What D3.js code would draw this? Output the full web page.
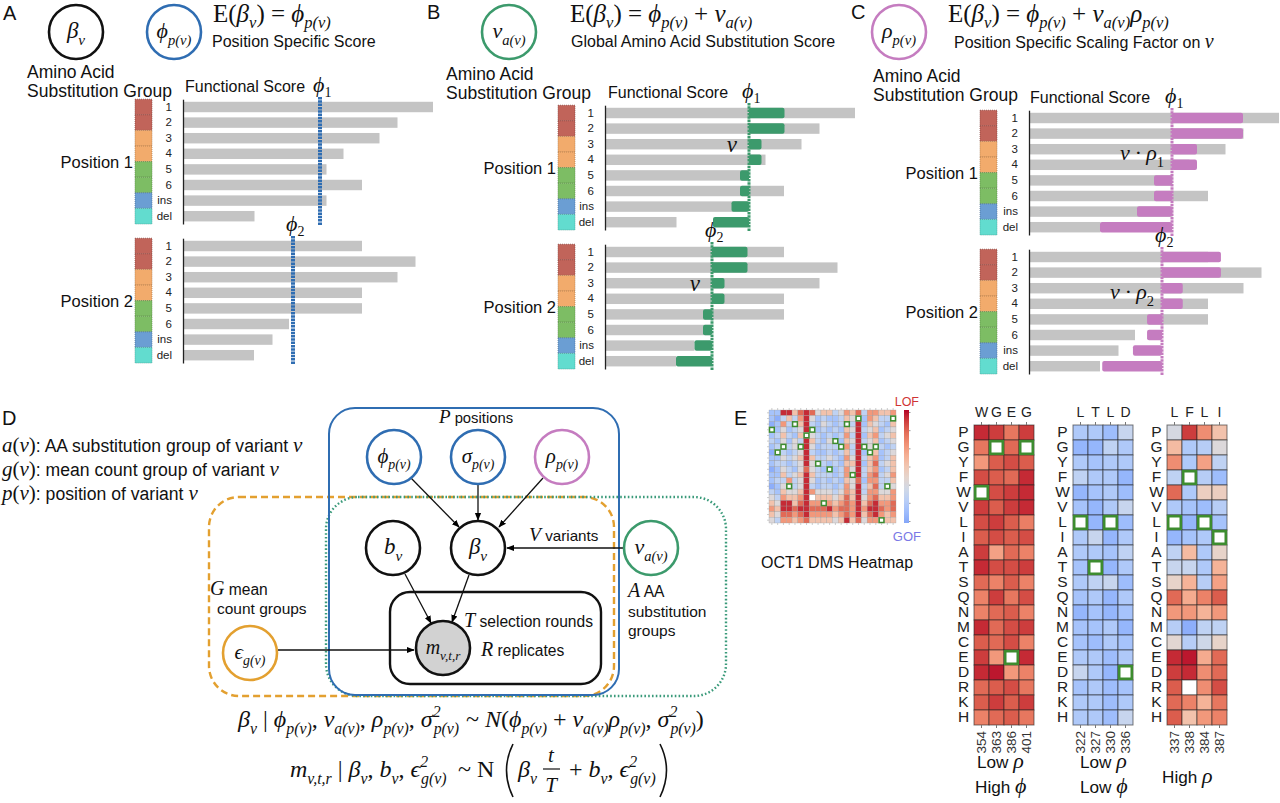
<!DOCTYPE html>
<meta charset="utf-8">
<head>
<style>
body{margin:0;background:#fff;}
text{white-space:pre;}
</style>
<script src="https://cdnjs.cloudflare.com/ajax/libs/d3/7.8.5/d3.min.js"></script>
</head>
<body>
<div id="vis-container"></div>
<script>
// ---- panels A-C: functional scores per substitution group ----
var groups = ['1', '2', '3', '4', '5', '6', 'ins', 'del']
var pos1Score = [10.0, 8.58, 7.86, 6.42, 5.74, 7.16, 5.74, 2.86]
var pos2Score = [7.16, 9.3, 8.58, 7.16, 7.16, 4.24, 3.58, 2.84]
var phiA = [5.48, 4.4]
var phiB = [5.76, 4.28]
var phiC = [5.72, 5.32]
var nuGlobal = [1.42, 1.42, 0.5, 0.5, -0.36, -0.36, -0.7, -1.44]
var rhoC = [2.0, 1.66]

// ---- panel E: heatmaps ----
var aaRows = ['P','G','Y','F','W','V','L','I','A','T','S','Q','N','M','C','E','D','R','K','H']
var colsH1 = ['W','G','E','G'], ticksH1 = ['354','363','386','401']
var colsH2 = ['L','T','L','D'], ticksH2 = ['322','327','330','336']
var colsH3 = ['L','F','L','I'], ticksH3 = ['337','338','384','387']
var valsH1 = [
 [0.9,0.85,0.65,0.85],[0.65,null,0.7,null],[0.5,0.75,0.8,0.75],[0.8,0.75,0.7,0.9],
 [null,0.8,0.85,0.9],[0.85,0.75,0.85,0.9],[0.8,0.85,0.75,0.62],[0.75,0.8,0.75,0.8],
 [0.85,0.45,0.7,0.6],[0.9,0.8,0.8,0.85],[0.7,0.6,0.75,0.6],[0.6,0.85,0.65,0.8],
 [0.6,0.7,0.75,0.6],[0.9,0.7,0.8,0.85],[0.75,0.7,0.8,0.6],[0.85,0.5,null,0.9],
 [0.9,0.95,0.5,0.6],[0.7,0.75,0.8,0.65],[0.75,0.85,0.75,0.85],[0.6,0.7,0.75,0.65]]
var valsH2 = [
 [-0.3,-0.3,-0.4,-0.15],[-0.45,-0.45,-0.2,-0.3],[-0.3,-0.35,-0.3,-0.3],[-0.2,-0.3,-0.3,-0.45],
 [-0.45,-0.35,-0.3,-0.4],[-0.35,-0.45,-0.3,-0.15],[null,-0.45,null,-0.4],[-0.3,-0.15,-0.45,-0.3],
 [-0.3,-0.3,-0.35,-0.2],[-0.35,null,-0.45,-0.3],[-0.3,-0.2,-0.15,-0.4],[-0.35,-0.3,-0.45,-0.3],
 [-0.45,-0.35,-0.45,-0.35],[-0.35,-0.35,-0.3,-0.45],[-0.35,-0.4,-0.3,-0.35],[-0.3,-0.3,-0.4,-0.3],
 [-0.15,-0.3,-0.45,null],[-0.35,-0.3,-0.4,-0.35],[-0.3,-0.3,-0.4,-0.3],[-0.3,-0.3,-0.4,-0.15]]
var valsH3 = [
 [-0.05,0.85,0.55,0.25],[0.3,-0.3,-0.25,0.0],[0.55,-0.3,0.45,-0.2],[-0.2,null,-0.25,-0.4],
 [0.7,-0.3,0.15,0.15],[-0.3,-0.35,-0.4,-0.25],[null,-0.45,null,-0.35],[-0.45,-0.35,-0.3,null],
 [-0.2,0.3,-0.3,0.1],[-0.15,-0.15,-0.3,0.35],[0.1,0.35,-0.25,0.45],[0.7,0.4,0.6,0.75],
 [0.5,0.5,0.35,0.5],[-0.25,-0.5,-0.2,-0.2],[0.05,-0.25,-0.1,0.1],[0.9,0.95,0.4,0.7],
 [0.85,0.9,0.55,0.7],[0.75,null,0.55,0.8],[0.7,0.6,0.35,0.65],[0.75,0.25,0.5,0.6]]
// wild-type cells [col,row]
var wtH1 = [[1,1],[3,1],[0,4],[2,15]]
var wtH2 = [[0,6],[2,6],[1,9],[3,16]]
var wtH3 = [[1,3],[0,6],[2,6],[3,7]]

// small overview heatmap, one digit per cell (level), x = wild type, w = missing
var levelValue = [-0.7, -0.5, -0.35, -0.2, 0, 0.25, 0.5, 0.7, 0.9]
var overview = [
 '2288578745534657366556',
 '213536842322354x26533x',
 '1263x58324323x38254325',
 'x242348x23232548345234',
 '235325x432323638256345',
 '32424385324x2548345234',
 '23x34x842333x638x4x323',
 '1x323483223235382x5234',
 '2243458533432648356235',
 '23323484x3232558257345',
 '1243247432x23648356235',
 '22534585333236x8367346',
 '2336348423232547266335',
 '124x3483233236483573x4',
 '3254458644434658366446',
 '4365568w55545758467556',
 '548857866x656768578667',
 '6588788777867768688767',
 '5477678666656768578656',
 '4366567555545857466x55']

var SANS = "'Liberation Sans', Arial, Helvetica, sans-serif"
var SERIF = "'Liberation Serif', 'Times New Roman', serif"
var groupFill = ['#c1645a','#c1645a','#f2ab6c','#f2ab6c','#7dbd64','#7dbd64','#6b9ed3','#62dccf']
var BLUE = '#2f6db2', GREEN = '#3c9a6c', PINK = '#c57cc0', ORANGE = '#e3a030', DGREEN = '#3a9a7a'
var coolwarm = d3.scaleSequential(d3.interpolateRgbBasis(['#3b4cc0','#5977e3','#7b9ff9','#9ebeff','#c0d4f5',
  '#dddcdc','#f2cbb7','#f7ac8e','#ee8468','#d65244','#b40426'])).domain([-1, 1])

var svg = d3.select('#vis-container').append('svg').attr('width', 1280).attr('height', 803)
var defs = svg.append('defs')
defs.append('marker').attr('id', 'arr').attr('viewBox', '0 0 10 10').attr('refX', 9).attr('refY', 5)
  .attr('markerWidth', 6).attr('markerHeight', 6).attr('orient', 'auto')
  .append('path').attr('d', 'M0,1 L10,5 L0,9 z').attr('fill', '#000')

// mixed math text: kinds r=roman, i=italic, s=subscript, S=upright subscript, u=superscript, n=sans
var math = function(g, x, y, parts, size, anchor, subOff){
	var t = g.append('text').attr('x', x).attr('y', y).attr('font-family', SERIF)
	  .attr('font-size', size).attr('text-anchor', anchor || 'start').attr('fill', '#111')
	var cur = 0
	parts.forEach(function(p){
		var k = p[1], off = 0, fs = size
		if (k === 's' || k === 'S'){ off = size * (subOff || 0.3); fs = size * 0.66 }
		if (k === 'u'){ off = -size * 0.42; fs = size * 0.66 }
		if (k === 'n'){ fs = size * 0.78 }
		if (p[3]) fs = p[3]
		var ts = t.append('tspan').attr('font-size', fs)
		  .attr('font-style', (k === 'r' || k === 'n' || k === 'S') ? 'normal' : 'italic')
		  .attr('dy', off - cur).text(p[0])
		if (k === 'n') ts.attr('font-family', SANS)
		if (p[2]) ts.attr('dx', p[2])
		cur = off
	})
	return t
}
var label = function(x, y, txt, size, anchor, fill){
	return svg.append('text').attr('x', x).attr('y', y).attr('font-family', SANS).attr('font-size', size)
	  .attr('text-anchor', anchor || 'start').attr('fill', fill || '#111').text(txt)
}
var circle = function(cx, cy, color, parts, fill, size){
	svg.append('circle').attr('cx', cx).attr('cy', cy).attr('r', 27).attr('fill', fill || '#fff')
	  .attr('stroke', color).attr('stroke-width', 2.6)
	math(svg, cx, cy + 6, parts, size || 21, 'middle')
}

// ---------------- panels A, B, C ----------------
var STEP = 15.6
var barPanel = function(cfg){
	var g = svg.append('g')
	var x = d3.scaleLinear().domain([0, 10]).range([cfg.axisX, cfg.axisX + 250])
	var scoreSets = [pos1Score, pos2Score]
	scoreSets.forEach(function(scores, p){
		var y0 = cfg.y0[p]
		var y = d3.scaleBand().domain(groups).range([y0 - STEP / 2, y0 - STEP / 2 + 8 * STEP])
		  .paddingInner(0.33).paddingOuter(0.165)
		var gap = (y.step() - y.bandwidth()) / 2
		g.selectAll(null).data(groups).enter().append('rect')
		  .attr('x', cfg.stripX).attr('width', 17)
		  .attr('y', function(d){ return y(d) - gap }).attr('height', y.step())
		  .attr('fill', function(d, i){ return groupFill[i] })
		  .attr('stroke', function(d, i){ return d3.color(groupFill[i]).darker(1) })
		  .attr('stroke-width', 0.7).attr('stroke-dasharray', '1,1')
		g.selectAll(null).data(scores).enter().append('rect')
		  .attr('x', x(0)).attr('y', function(d, i){ return y(groups[i]) })
		  .attr('width', function(d){ return x(d) - x(0) }).attr('height', y.bandwidth())
		  .attr('fill', '#c4c4c4')
		var phi = cfg.phi[p]
		if (cfg.mode){
			var eff = nuGlobal.map(function(v){ return cfg.mode === 'nu' ? v : v * rhoC[p] })
			g.selectAll(null).data(eff).enter().append('rect')
			  .attr('x', function(d){ return x(Math.min(phi, phi + d)) })
			  .attr('width', function(d){ return Math.abs(x(phi + d) - x(phi)) })
			  .attr('y', function(d, i){ return y(groups[i]) }).attr('height', y.bandwidth())
			  .attr('rx', 2).attr('fill', cfg.color)
		}
		var ax = g.append('g').attr('transform', 'translate(' + cfg.axisX + ',0)')
		  .call(d3.axisLeft(y).tickSize(0).tickPadding(11))
		ax.select('.domain').attr('stroke', '#222').attr('stroke-width', 1.3)
		ax.selectAll('text').attr('font-family', SANS).attr('font-size', 11.5).attr('fill', '#222')
		g.append('line').attr('x1', x(phi)).attr('x2', x(phi)).attr('y1', y0 - 10).attr('y2', y0 + 7 * STEP + 9)
		  .attr('stroke', cfg.color).attr('stroke-width', cfg.lineW).attr('stroke-dasharray', '2.5,0.8')
		math(g, x(phi) - 7, y0 - 15, [['ϕ', 'i'], [String(p + 1), 'S', 0, 14]], 22, 'start', 0.22)
		g.append('text').attr('x', cfg.stripX - 2).attr('y', y0 + 61).attr('text-anchor', 'end')
		  .attr('font-family', SANS).attr('font-size', 16.5).attr('fill', '#111').text('Position ' + (p + 1))
		if (cfg.mode === 'nu') math(g, x(phi) - 12, y0 + 39, [['ν', 'i']], 23, 'end')
		if (cfg.mode === 'rho') math(g, x(phi) - 8, y0 + 42, [['ν · ', 'i'], ['ρ', 'i'], [String(p + 1), 'S']], 22, 'end')
	})
}

label(3, 20, 'A', 20); label(427, 19, 'B', 20); label(851, 19, 'C', 20)

var sub = function(t){ return [t, 's'] }
circle(76, 32, '#111', [['β', 'i'], sub('v')], null, 23)
circle(174, 32, BLUE, [['ϕ', 'i'], sub('p(v)')], null, 22)
math(svg, 213, 22, [['E', 'r'], ['(', 'r'], ['β', 'i'], sub('v'), [')', 'r'], [' = ', 'r'], ['ϕ', 'i'], sub('p(v)')], 25, 'start', 0.22)
label(212, 47, 'Position Specific Score', 16)
label(27, 78, 'Amino Acid', 17.5); label(27, 97, 'Substitution Group', 17.5)
label(185, 92, 'Functional Score', 16)
barPanel({axisX: 183, stripX: 135, y0: [107, 246], phi: phiA, color: BLUE, lineW: 4})

circle(509, 32, GREEN, [['ν', 'i'], sub('a(v)')], null, 22)
math(svg, 570, 22, [['E', 'r'], ['(', 'r'], ['β', 'i'], sub('v'), [')', 'r'], [' = ', 'r'], ['ϕ', 'i'], sub('p(v)'),
  [' + ', 'r'], ['ν', 'i'], sub('a(v)')], 25, 'start', 0.22)
label(571, 47, 'Global Amino Acid Substitution Score', 16)
label(446, 80, 'Amino Acid', 17.5); label(446, 99, 'Substitution Group', 17.5)
label(608, 98, 'Functional Score', 16)
barPanel({axisX: 605, stripX: 558, y0: [113, 252], phi: phiB, color: GREEN, lineW: 3, mode: 'nu'})

circle(899, 32, PINK, [['ρ', 'i'], sub('p(v)')], null, 22)
math(svg, 948, 22, [['E', 'r'], ['(', 'r'], ['β', 'i'], sub('v'), [')', 'r'], [' = ', 'r'], ['ϕ', 'i'], sub('p(v)'),
  [' + ', 'r'], ['ν', 'i'], sub('a(v)'), ['ρ', 'i'], sub('p(v)')], 25, 'start', 0.22)
math(svg, 954, 48, [['Position Specific Scaling Factor on ', 'n', 0, 16], ['ν', 'i']], 20)
label(873, 82, 'Amino Acid', 17.5); label(873, 101, 'Substitution Group', 17.5)
label(1030, 103, 'Functional Score', 16)
barPanel({axisX: 1029, stripX: 980, y0: [118, 257], phi: phiC, color: PINK, lineW: 3, mode: 'rho'})

// ---------------- panel D: graphical model ----------------
label(2, 425, 'D', 20)
math(svg, 2, 452, [['a', 'i'], ['(', 'r'], ['v', 'i'], [')', 'r'], [': AA substitution group of variant ', 'n', 0, 17.6], ['v', 'i']], 21)
math(svg, 2, 476, [['g', 'i'], ['(', 'r'], ['v', 'i'], [')', 'r'], [': mean count group of variant ', 'n', 0, 17.6], ['v', 'i']], 21)
math(svg, 2, 500, [['p', 'i'], ['(', 'r'], ['v', 'i'], [')', 'r'], [': position of variant ', 'n', 0, 17.6], ['v', 'i']], 21)

svg.append('rect').attr('x', 209).attr('y', 497).attr('width', 405).attr('height', 199).attr('rx', 30)
  .attr('fill', 'none').attr('stroke', ORANGE).attr('stroke-width', 2.4).attr('stroke-dasharray', '7,4')
svg.append('rect').attr('x', 326).attr('y', 497).attr('width', 400).attr('height', 199).attr('rx', 32)
  .attr('fill', 'none').attr('stroke', DGREEN).attr('stroke-width', 2.4).attr('stroke-dasharray', '1.6,2.2')
svg.append('rect').attr('x', 329).attr('y', 408).attr('width', 290).attr('height', 287).attr('rx', 26)
  .attr('fill', 'none').attr('stroke', BLUE).attr('stroke-width', 2)
svg.append('rect').attr('x', 390).attr('y', 592).attr('width', 211).attr('height', 92).attr('rx', 20)
  .attr('fill', 'none').attr('stroke', '#111').attr('stroke-width', 2.4)

var arrows = [[410, 477, 459, 527], [478, 484, 478, 520], [543, 478, 499, 527], [624, 548, 507, 548],
  [405, 574, 431, 623], [469, 575, 452, 622], [278, 650, 414, 650]]
svg.selectAll(null).data(arrows).enter().append('line')
  .attr('x1', function(d){ return d[0] }).attr('y1', function(d){ return d[1] })
  .attr('x2', function(d){ return d[2] }).attr('y2', function(d){ return d[3] })
  .attr('stroke', '#111').attr('stroke-width', 1.3).attr('marker-end', 'url(#arr)')

circle(394, 457, BLUE, [['ϕ', 'i'], sub('p(v)')])
circle(478, 457, BLUE, [['σ', 'i'], sub('p(v)')])
circle(562, 457, PINK, [['ρ', 'i'], sub('p(v)')])
circle(393, 548, '#111', [['b', 'i'], sub('v')], null, 23)
circle(478, 548, '#111', [['β', 'i'], sub('v')], null, 23)
circle(651, 548, GREEN, [['ν', 'i'], sub('a(v)')], null, 22)
circle(443, 648, '#111', [['m', 'i'], sub('v,t,r')], '#d2d2d2', 20)
circle(250, 653, ORANGE, [['ϵ', 'i'], sub('g(v)')])

math(svg, 476, 423, [['P', 'i'], [' positions', 'n']], 19, 'middle')
math(svg, 529, 541, [['V', 'i'], [' variants', 'n']], 19.5)
math(svg, 210, 595, [['G', 'i'], [' mean', 'n']], 20)
label(217, 614, 'count groups', 15.5)
math(svg, 628, 597, [['A', 'i'], [' AA', 'n']], 20)
label(628, 617, 'substitution', 15.5); label(628, 636, 'groups', 15.5)
math(svg, 464, 627, [['T', 'i'], [' selection rounds', 'n']], 20)
math(svg, 481, 656, [['R', 'i'], [' replicates', 'n']], 20)

math(svg, 238, 727, [['β', 'i'], sub('v'), [' | ', 'r'], ['ϕ', 'i'], sub('p(v)'), [', ', 'r'], ['ν', 'i'], sub('a(v)'),
  [', ', 'r'], ['ρ', 'i'], sub('p(v)'), [', ', 'r'], ['σ', 'i'], ['2', 'u'], ['p(v)', 's', -7]], 24)
math(svg, 466, 727, [['~ ', 'r'], ['N', 'i'], ['(', 'r'], ['ϕ', 'i'], sub('p(v)'), [' + ', 'r'], ['ν', 'i'], sub('a(v)'),
  ['ρ', 'i'], sub('p(v)'), [', ', 'r'], ['σ', 'i'], ['2', 'u'], ['p(v)', 's', -7], [')', 'r']], 24)
math(svg, 290, 777, [['m', 'i'], sub('v,t,r'), [' | ', 'r'], ['β', 'i'], sub('v'), [', ', 'r'], ['b', 'i'], sub('v'),
  [', ', 'r'], ['ϵ', 'i'], ['2', 'u'], ['g(v)', 's', -7]], 24)
math(svg, 458, 777, [['~ N', 'r']], 24)
math(svg, 518, 777, [['β', 'i'], sub('v')], 24)
math(svg, 551, 762, [['t', 'i']], 21, 'middle')
math(svg, 551, 792, [['T', 'i']], 21, 'middle')
svg.append('line').attr('x1', 543).attr('x2', 560).attr('y1', 769).attr('y2', 769).attr('stroke', '#111').attr('stroke-width', 1.2)
math(svg, 563, 777, [[' + ', 'r'], ['b', 'i'], sub('v'), [', ', 'r'], ['ϵ', 'i'], ['2', 'u'], ['g(v)', 's', -7]], 24)
svg.append('path').attr('d', 'M513,744 Q500,770 513,797').attr('fill', 'none').attr('stroke', '#111').attr('stroke-width', 1.6)
svg.append('path').attr('d', 'M660,744 Q673,770 660,797').attr('fill', 'none').attr('stroke', '#111').attr('stroke-width', 1.6)

// ---------------- panel E: heatmaps ----------------
label(734, 425, 'E', 20)

// overview heatmap
var ox = d3.scaleBand().domain(d3.range(22)).range([769, 896])
var oy = d3.scaleBand().domain(d3.range(20)).range([410, 523])
var ovCells = []
overview.forEach(function(row, r){
	row.split('').forEach(function(ch, c){ ovCells.push({r: r, c: c, ch: ch}) })
})
svg.selectAll(null).data(ovCells).enter().append('rect')
  .attr('x', function(d){ return ox(d.c) }).attr('y', function(d){ return oy(d.r) })
  .attr('width', ox.bandwidth()).attr('height', oy.bandwidth())
  .attr('fill', function(d){ return (d.ch === 'x' || d.ch === 'w') ? '#fff' : coolwarm(levelValue[+d.ch]) })
  .attr('stroke', '#9a9a9a').attr('stroke-width', 0.3)
svg.selectAll(null).data(ovCells.filter(function(d){ return d.ch === 'x' })).enter().append('rect')
  .attr('x', function(d){ return ox(d.c) + 0.5 }).attr('y', function(d){ return oy(d.r) + 0.5 })
  .attr('width', ox.bandwidth() - 1).attr('height', oy.bandwidth() - 1)
  .attr('fill', '#fff').attr('stroke', '#3d8c2f').attr('stroke-width', 1.5)
var tinyTop = svg.append('g').attr('transform', 'translate(0,410)').call(d3.axisTop(ox).tickSize(2).tickFormat(''))
var tinyBot = svg.append('g').attr('transform', 'translate(0,523)').call(d3.axisBottom(ox).tickSize(2).tickFormat(''))
var tinyLeft = svg.append('g').attr('transform', 'translate(769,0)').call(d3.axisLeft(oy).tickSize(2).tickFormat(''))
;[tinyTop, tinyBot, tinyLeft].forEach(function(a){
	a.select('.domain').remove()
	a.selectAll('line').attr('stroke', '#aaa').attr('stroke-width', 0.6)
})
var grad = defs.append('linearGradient').attr('id', 'cbar').attr('x1', 0).attr('x2', 0).attr('y1', 0).attr('y2', 1)
d3.range(0, 1.0001, 0.1).forEach(function(t){
	grad.append('stop').attr('offset', t).attr('stop-color', coolwarm(1 - t * 1.55))
})
svg.append('rect').attr('x', 904).attr('y', 410).attr('width', 5).attr('height', 113).attr('fill', 'url(#cbar)')
var cbScale = d3.scaleLinear().domain([0, 6]).range([412, 521])
svg.append('g').attr('transform', 'translate(909,0)').call(d3.axisRight(cbScale).ticks(6).tickSize(1.5).tickFormat(''))
  .call(function(a){ a.select('.domain').remove(); a.selectAll('line').attr('stroke', '#999') })
label(919, 406, 'LOF', 12.5, 'end', '#d03434')
label(921, 541, 'GOF', 13, 'end', '#7a78e6')
label(761, 568, 'OCT1 DMS Heatmap', 16)

var heatmap = function(cfg){
	var g = svg.append('g')
	var x = d3.scaleBand().domain(d3.range(4)).range([cfg.x0, cfg.x0 + 60])
	var y = d3.scaleBand().domain(aaRows).range([425, 725])
	var cells = []
	cfg.vals.forEach(function(row, r){ row.forEach(function(v, c){ cells.push({r: r, c: c, v: v}) }) })
	g.selectAll(null).data(cells).enter().append('rect')
	  .attr('x', function(d){ return x(d.c) }).attr('y', function(d){ return y(aaRows[d.r]) })
	  .attr('width', x.bandwidth()).attr('height', y.bandwidth())
	  .attr('fill', function(d){ return d.v === null ? '#fff' : coolwarm(d.v) })
	  .attr('stroke', '#222').attr('stroke-opacity', 0.6).attr('stroke-width', 1)
	g.selectAll(null).data(cfg.wt).enter().append('rect')
	  .attr('x', function(d){ return x(d[0]) + 1.2 }).attr('y', function(d){ return y(aaRows[d[1]]) + 1.2 })
	  .attr('width', x.bandwidth() - 2.4).attr('height', y.bandwidth() - 2.4)
	  .attr('fill', '#fff').attr('stroke', '#3d8c2f').attr('stroke-width', 2.6)
	var left = g.append('g').attr('transform', 'translate(' + cfg.x0 + ',0)').call(d3.axisLeft(y).tickSize(0))
	left.select('.domain').remove()
	left.selectAll('text').attr('x', -10.5).attr('text-anchor', 'middle').attr('font-family', SANS)
	  .attr('font-size', 15.5).attr('fill', '#222')
	var top = g.append('g').attr('transform', 'translate(0,425)')
	  .call(d3.axisTop(x).tickSize(3).tickPadding(5).tickFormat(function(i){ return cfg.cols[i] }))
	top.select('.domain').remove()
	top.selectAll('line').attr('stroke', '#777')
	top.selectAll('text').attr('font-family', SANS).attr('font-size', 14).attr('fill', '#222')
	var bot = g.append('g').attr('transform', 'translate(0,725)')
	  .call(d3.axisBottom(x).tickSize(3).tickFormat(function(i){ return cfg.ticks[i] }))
	bot.select('.domain').remove()
	bot.selectAll('line').attr('stroke', '#777')
	bot.selectAll('text').attr('transform', 'rotate(-90)').attr('x', -6).attr('y', 0).attr('dy', '0.35em')
	  .attr('text-anchor', 'end').attr('font-family', SANS).attr('font-size', 13.5).attr('fill', '#333')
}
heatmap({x0: 974, cols: colsH1, ticks: ticksH1, vals: valsH1, wt: wtH1})
heatmap({x0: 1073, cols: colsH2, ticks: ticksH2, vals: valsH2, wt: wtH2})
heatmap({x0: 1167, cols: colsH3, ticks: ticksH3, vals: valsH3, wt: wtH3})

math(svg, 977, 768, [['Low ', 'n'], ['ρ', 'i']], 22)
math(svg, 975, 793, [['High ', 'n'], ['ϕ', 'i']], 22)
math(svg, 1080, 768, [['Low ', 'n'], ['ρ', 'i']], 22)
math(svg, 1080, 793, [['Low ', 'n'], ['ϕ', 'i']], 22)
math(svg, 1162, 783, [['High ', 'n'], ['ρ', 'i']], 22)
</script>
</body>
</html>
